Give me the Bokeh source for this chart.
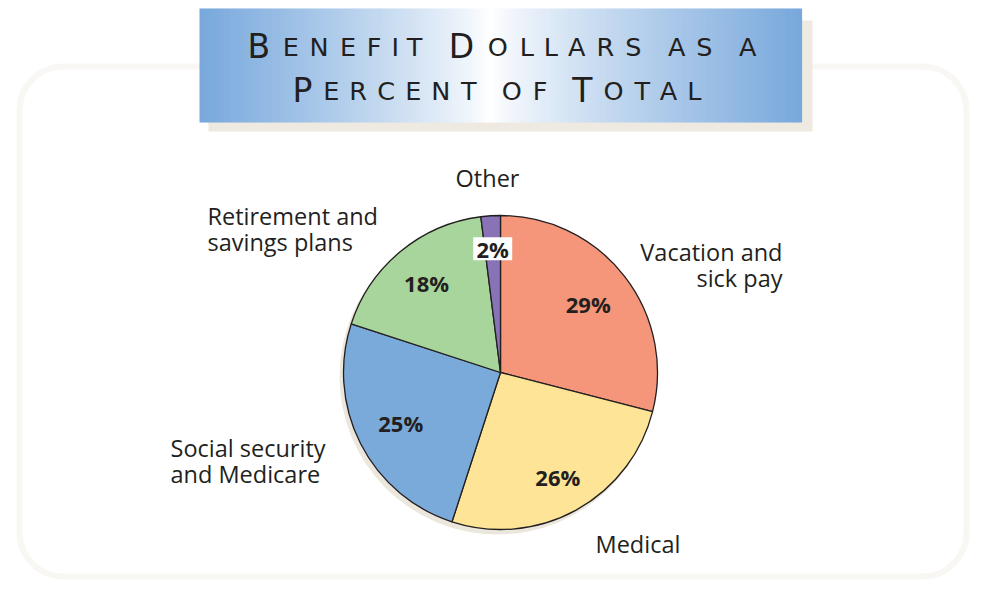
import math
from bokeh.plotting import figure
from bokeh.models import Range1d, BoxAnnotation, ColumnDataSource
from bokeh.core.properties import value
from bokeh.embed import file_html
from bokeh.resources import INLINE

# ---------------- data ----------------
categories = ["Vacation and sick pay", "Medical", "Social security and Medicare",
              "Retirement and savings plans", "Other"]
percents = [29, 26, 25, 18, 2]
pct_labels = ["29%", "26%", "25%", "18%", "2%"]
slice_colors = ["#F5967A", "#FDE496", "#7AAADA", "#A8D59B", "#8773B5"]
title_lines = ["Benefit Dollars as a", "Percent of Total"]

# ---------------- helpers ----------------
W, H = 970, 580
def Y(s):  # screen-y (reference pixels) -> data-y
    return 596 - s

TXT = "#231F20"

p = figure(width=W, height=H, x_range=Range1d(0, 970), y_range=Range1d(16, 596),
           output_backend="svg", toolbar_location=None, min_border=0,
           x_axis_type=None, y_axis_type=None, background_fill_color="white",
           border_fill_color="white")
p.outline_line_color = None
p.grid.visible = False

# rounded panel border
panel = BoxAnnotation(left=19, right=966, top=Y(66), bottom=Y(576),
                      fill_alpha=0, line_color="#EBE5D8", line_width=6,
                      border_radius=44, level="underlay")
p.add_layout(panel)

# title box shadow
p.quad(left=[208], right=[812], top=[Y(20)], bottom=[Y(131)],
       fill_color="#EEEAE1", line_color=None)

# title box gradient
bx0, bx1, cx = 199, 801, 490
n = 200
blue = (120, 168, 220)
lefts, rights, cols = [], [], []
for i in range(n):
    a = bx0 + (bx1 - bx0) * i / n
    b = bx0 + (bx1 - bx0) * (i + 1) / n
    m = (a + b) / 2
    span = (cx - bx0) if m < cx else (bx1 - cx)
    t = min(1.0, abs(m - cx) / span) ** 0.85
    c = tuple(int(round(255 + (bc - 255) * t)) for bc in blue)
    lefts.append(a)
    rights.append(b + 0.6)
    cols.append("#%02x%02x%02x" % c)
p.quad(left=lefts, right=rights, top=Y(8), bottom=Y(122), fill_color=cols, line_color=None)

# title in small caps, letter by letter
ADV = {"B": .686, "E": .632, "N": .748, "F": .575, "I": .295, "T": .611, "D": .770,
       "O": .787, "L": .557, "A": .684, "R": .695, "S": .635, "P": .603, "C": .698}
BIG, SMALL = 33, 25.5
def layout(text, L, R, big=BIG, small=SMALL, track=4, space=12):
    items = []
    x = 0.0
    for w in text.split(" "):
        for ch in w:
            size = big if ch.isupper() else small
            c = ch.upper()
            adv = ADV.get(c, .65) * size
            items.append([x, adv, c, size])
            x += adv + track
        x += space
    k = (R - L - items[-1][1]) / items[-1][0]
    return [(L + k * it[0], it[2], it[3]) for it in items]

for line, (L, R, base) in zip(title_lines, [(247, 756, 46), (292, 701, 90)]):
    for size in (BIG, SMALL):
        pts = [it for it in layout(line, L, R) if it[2] == size]
        p.text(x=[q[0] for q in pts], y=[Y(base)] * len(pts), text=[q[1] for q in pts],
               text_font=value("DejaVu Sans"), text_font_size=f"{size}px",
               text_color=TXT, text_baseline="alphabetic", text_align="left")

# ---------------- pie ----------------
pcx, pcy, R = 500, 372, 157
total = sum(percents)
starts, ends, mids = [], [], []
cum = 0
for v in percents:
    a0 = math.pi / 2 - 2 * math.pi * cum / total
    cum += v
    a1 = math.pi / 2 - 2 * math.pi * cum / total
    starts.append(a0)
    ends.append(a1)
    mids.append((a0 + a1) / 2)

# shadow
p.circle(x=[pcx - 3], y=[Y(pcy + 4)], radius=R + 1, fill_color="#ECE7DC", line_color=None)

src = ColumnDataSource(dict(start=starts, end=ends, color=slice_colors, cat=categories))
p.wedge(x=pcx, y=Y(pcy), radius=R, start_angle="start", end_angle="end",
        direction="clock", fill_color="color", line_color="#231F20", line_width=1.3,
        source=src)

# percent labels inside slices
label_r = [111, 119, 112, 116, 124]
lx = [pcx + r * math.cos(m) for r, m in zip(label_r, mids)]
ly = [Y(pcy) + r * math.sin(m) for r, m in zip(label_r, mids)]
# white box behind the small "Other" label
p.rect(x=[lx[4]], y=[ly[4]], width=39, height=23, fill_color="white", line_color=None)
p.text(x=lx, y=ly, text=pct_labels, text_font=value("Open Sans"), text_font_style="bold",
       text_font_size="22px", text_color=TXT, text_align="center", text_baseline="middle")

# category labels
FONT = value("Open Sans")
def lbl(xs, ys, texts, align):
    p.text(x=xs, y=[Y(v) for v in ys], text=texts, text_font=FONT, text_font_size="23.5px",
           text_color=TXT, text_align=align, text_baseline="middle")

lbl([782, 782], [251, 277], ["Vacation and", "sick pay"], "right")
lbl([595], [543], ["Medical"], "left")
lbl([170, 170], [447, 473], ["Social security", "and Medicare"], "left")
lbl([207, 207], [215, 241], ["Retirement and", "savings plans"], "left")
lbl([487], [177], ["Other"], "center")

open("out.html", "w").write(file_html(p, INLINE))
